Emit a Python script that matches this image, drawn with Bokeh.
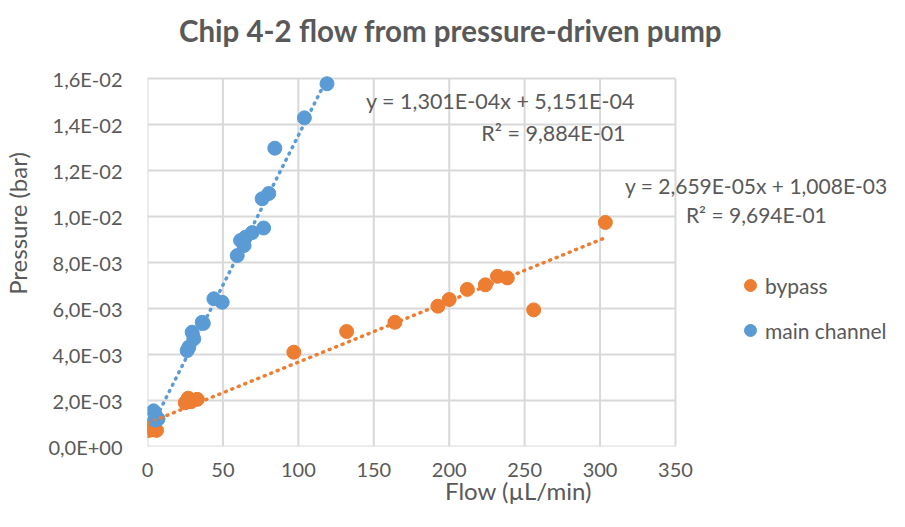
import numpy as np
from bokeh.plotting import figure
from bokeh.models import Label, Legend, LegendItem, FixedTicker, Range1d
from bokeh.embed import file_html
from bokeh.resources import INLINE

# ---- data ----
bypass_flow = [0, 1, 2, 3, 5, 6, 25, 27, 29, 33, 97, 132, 164, 192.5, 200, 212, 224, 232, 238.5, 256, 303.5]
bypass_pressure = [0.90e-3, 0.70e-3, 0.95e-3, 0.75e-3, 0.80e-3, 0.70e-3, 1.90e-3, 2.10e-3, 1.95e-3, 2.05e-3,
                   4.10e-3, 5.00e-3, 5.40e-3, 6.10e-3, 6.39e-3, 6.83e-3, 7.03e-3, 7.40e-3, 7.33e-3, 5.94e-3, 9.74e-3]

main_flow = [4, 5, 6, 5, 7, 26.3, 27.4, 30.7, 29.6, 36.3, 37.0, 44, 49.5, 59.5, 64, 61.7, 65, 69.4, 77, 76, 80.4, 84.4, 104, 119]
main_pressure = [1.55e-3, 1.40e-3, 1.25e-3, 1.15e-3, 1.20e-3, 4.17e-3, 4.32e-3, 4.68e-3, 4.97e-3, 5.40e-3, 5.35e-3,
                 6.42e-3, 6.27e-3, 8.30e-3, 8.74e-3, 8.96e-3, 9.10e-3, 9.30e-3, 9.50e-3, 10.77e-3, 11.00e-3,
                 12.97e-3, 14.29e-3, 15.77e-3]

bypass_fit = [2.659e-05, 1.008e-03]   # slope, intercept
main_fit = [1.301e-04, 5.151e-04]

bypass_eq = ["y = 2,659E-05x + 1,008E-03", "R² = 9,694E-01"]
main_eq = ["y = 1,301E-04x + 5,151E-04", "R² = 9,884E-01"]

x_ticks = [0, 50, 100, 150, 200, 250, 300, 350]
y_ticks = [0.0, 0.002, 0.004, 0.006, 0.008, 0.010, 0.012, 0.014, 0.016]
y_tick_labels = ["0,0E+00", "2,0E-03", "4,0E-03", "6,0E-03", "8,0E-03", "1,0E-02", "1,2E-02", "1,4E-02", "1,6E-02"]

title_text = "Chip 4-2 flow from pressure-driven pump"
x_label = "Flow (µL/min)"
y_label = "Pressure (bar)"

ORANGE = "#ED7D31"
BLUE = "#5B9BD5"
TXT = "#595959"
GRID = "#d9d9d9"
FONT = "Lato"

# layout (pixels): plot area 528 x 368 starting at x=147, bottom at y=446;
# the frame is extended to the right/top edge so the outside texts
# (title, equation, legend) are not clipped
W, H = 889, 511
LEFT, BOTTOM = 147, 65
AREA_W, AREA_H = 528, 368
X_END = x_ticks[-1] * (W - LEFT) / AREA_W
Y_END = y_ticks[-1] * (H - BOTTOM) / AREA_H

p = figure(width=W, height=H, output_backend="svg", toolbar_location=None,
           x_range=Range1d(0, X_END), y_range=Range1d(0, Y_END),
           min_border_left=LEFT, min_border_right=0, min_border_top=0, min_border_bottom=BOTTOM)
p.title.visible = False
p.background_fill_color = "white"
p.border_fill_color = "white"
p.outline_line_color = None
p.xgrid.visible = False
p.ygrid.visible = False

for ax in (p.xaxis, p.yaxis):
    ax.axis_line_color = None
    ax.major_tick_line_color = None
    ax.minor_tick_line_color = None
    ax.major_tick_out = 0
    ax.major_tick_in = 0
    ax.minor_tick_out = 0
    ax.minor_tick_in = 0
    ax.major_label_text_font = FONT
    ax.major_label_text_font_size = "20px"
    ax.major_label_text_color = TXT
    ax.axis_label_text_font = FONT
    ax.axis_label_text_font_size = "24px"
    ax.axis_label_text_font_style = "normal"
    ax.axis_label_text_color = TXT

p.xaxis.ticker = FixedTicker(ticks=x_ticks)
p.yaxis.ticker = FixedTicker(ticks=y_ticks)
p.xaxis.bounds = (x_ticks[0], x_ticks[-1])
p.yaxis.bounds = (y_ticks[0], y_ticks[-1])
p.yaxis.major_label_overrides = dict(zip(y_ticks, y_tick_labels))
p.xaxis.axis_label = x_label
p.yaxis.axis_label = y_label
p.xaxis.major_label_standoff = 16
p.xaxis.axis_label_standoff = -4
p.yaxis.major_label_standoff = 25
p.yaxis.axis_label_standoff = 13

# grid lines (incl. plot-area border) drawn from the tick lists
p.segment(x0=x_ticks, y0=[y_ticks[0]] * len(x_ticks), x1=x_ticks, y1=[y_ticks[-1]] * len(x_ticks),
          line_color=GRID, line_width=2)
p.segment(x0=[x_ticks[0]] * len(y_ticks), y0=y_ticks, x1=[x_ticks[-1]] * len(y_ticks), y1=y_ticks,
          line_color=GRID, line_width=2)

r_by = p.scatter(bypass_flow, bypass_pressure, size=14, fill_color=ORANGE, line_color=ORANGE)
r_main = p.scatter(main_flow, main_pressure, size=14, fill_color=BLUE, line_color=BLUE)

# trendlines over each series' data range
bx = np.array([min(bypass_flow), max(bypass_flow)])
p.line(bx, bypass_fit[0] * bx + bypass_fit[1], line_color=ORANGE, line_width=3.5,
       line_dash="1 6", line_cap="round")
mx = np.array([min(main_flow), max(main_flow)])
p.line(mx, main_fit[0] * mx + main_fit[1], line_color=BLUE, line_width=3.5,
       line_dash="1 6", line_cap="round")

def lab(text, x, y, size="21px", bold=False):
    p.add_layout(Label(x=x, y=y, text=text,
                       text_font=FONT, text_font_size=size, text_color=TXT,
                       text_align="center", text_baseline="middle",
                       text_font_style="bold" if bold else "normal"))

lab(title_text, 200.9, 0.01809, size="29.5px", bold=True)
lab(main_eq[0], 234.0, 0.015043, size="21.5px")
lab(main_eq[1], 269.1, 0.013609, size="21.5px")
lab(bypass_eq[0], 403.6, 0.011348)
lab(bypass_eq[1], 403.6, 0.010087)

legend = Legend(items=[LegendItem(label="bypass", renderers=[r_by]),
                       LegendItem(label="main channel", renderers=[r_main])],
                location=(588, 98), glyph_width=30, glyph_height=36, label_standoff=0,
                spacing=9, padding=0, margin=0, border_line_color=None,
                background_fill_alpha=0, label_text_font=FONT, label_text_font_size="21px",
                label_text_color=TXT, label_height=36)
p.add_layout(legend)

open("out.html", "w").write(file_html(p, INLINE))
